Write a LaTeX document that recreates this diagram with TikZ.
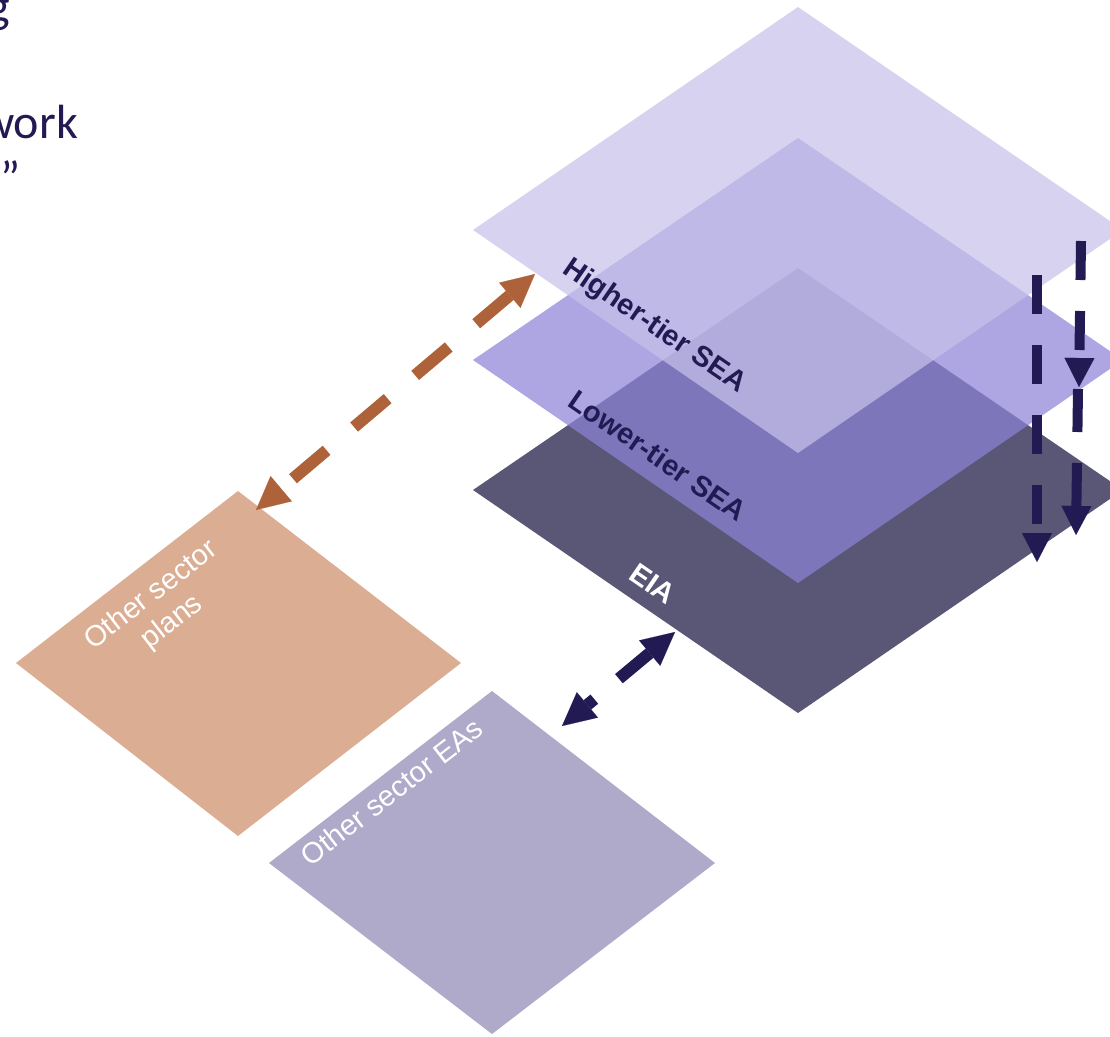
\documentclass[tikz,border=0pt]{standalone}
\usepackage{fontspec}
\setmainfont{Liberation Sans}
\newfontfamily\calibfont{Carlito}
\usetikzlibrary{arrows.meta}
\definecolor{navy}{RGB}{34,26,82}
\definecolor{topc}{RGB}{198,193,234}
\definecolor{midc}{RGB}{141,131,215}
\definecolor{eiac}{RGB}{90,86,117}
\definecolor{plansc}{RGB}{219,173,147}
\definecolor{easc}{RGB}{175,170,202}
\definecolor{orangec}{RGB}{173,98,57}
\tikzset{
  plane/.style={draw=none, fill opacity=0.72},
  planelabel/.style={font=\fontsize{29}{34}\selectfont\bfseries, text=navy, inner sep=0pt, anchor=base, rotate=-34.5},
  sidelabel/.style={font=\fontsize{29}{34}\selectfont, text=white, inner sep=0pt, align=center, rotate=37.7},
  headtext/.style={font=\calibfont\fontsize{48}{58}\selectfont, text=navy, inner sep=0pt, anchor=base east},
  orangearrow/.style={draw=orangec, line width=12pt, dash pattern=on 44pt off 36pt,
    {Triangle[length=33pt,width=33pt,line width=0.1pt]}-{Triangle[length=33pt,width=33pt,line width=0.1pt]}},
  navyarrow/.style={draw=navy, line width=12pt, dash pattern=on 40pt off 32pt,
    {Triangle[length=33pt,width=33pt,line width=0.1pt]}-{Triangle[length=33pt,width=33pt,line width=0.1pt]}},
  vertarrow/.style={draw=navy, line width=10pt,
    -{Triangle[length=29pt,width=30pt,line width=0.1pt]}}
}
\begin{document}
\begin{tikzpicture}[x=1pt,y=-1pt]
\clip (0,0) rectangle (1110,1036);
% plane corners
\coordinate (hT) at (798,7);   \coordinate (hL) at (473,230);
\coordinate (hB) at (798,453); \coordinate (hR) at (1123,230);
\coordinate (lT) at (798,138); \coordinate (lL) at (473,360);
\coordinate (lB) at (798,583); \coordinate (lR) at (1123,360);
\coordinate (eT) at (798,268); \coordinate (eL) at (473,490);
\coordinate (eB) at (798,713); \coordinate (eR) at (1123,490);
\coordinate (pT) at (238,491); \coordinate (pL) at (16,663);
\coordinate (pB) at (238,836); \coordinate (pR) at (461,663);
\coordinate (aT) at (492,691); \coordinate (aL) at (269,863);
\coordinate (aB) at (492,1034); \coordinate (aR) at (715,863);
% planes
\fill[eiac] (eT) -- (eR) -- (eB) -- (eL) -- cycle;
\fill[midc, plane] (lT) -- (lR) -- (lB) -- (lL) -- cycle;
\fill[topc, plane] (hT) -- (hR) -- (hB) -- (hL) -- cycle;
\fill[plansc] (pT) -- (pR) -- (pB) -- (pL) -- cycle;
\fill[easc] (aT) -- (aR) -- (aB) -- (aL) -- cycle;
% labels
\node[planelabel] (higher) at (650,333) {Higher-tier SEA};
\node[planelabel] (lower) at (652,464) {Lower-tier SEA};
\node[planelabel, text=white] (eia) at (647,592) {EIA};
\node[sidelabel] (plans) at (162,609) {Other sector\\plans};
\node[sidelabel, anchor=base] (eas) at (398,800) {Other sector EAs};
% heading fragments
\node[headtext] (h1) at (10,23) {g};
\node[headtext] (h2) at (78,138) {work};
\node[headtext] (h3) at (21,194) {”};
% arrow end points
\coordinate (o1) at (535,274); \coordinate (o2) at (256,510);
\coordinate (n1) at (675,632); \coordinate (n2) at (562,726);
\coordinate (va1) at (1037,275); \coordinate (va2) at (1037,562);
\coordinate (vb1) at (1081,241); \coordinate (vb2) at (1079,387);
\coordinate (vc1) at (1078,389); \coordinate (vc2) at (1076,535);
% arrows
\draw[orangearrow] (o1) -- (o2);
\draw[navyarrow] (n1) -- (n2);
\draw[vertarrow, dash pattern=on 39pt off 31pt] (va1) -- (va2);
\draw[vertarrow, dash pattern=on 39pt off 31pt] (vb1) -- (vb2);
\draw[vertarrow, dash pattern=on 43pt off 31pt] (vc1) -- (vc2);
\end{tikzpicture}
\end{document}
